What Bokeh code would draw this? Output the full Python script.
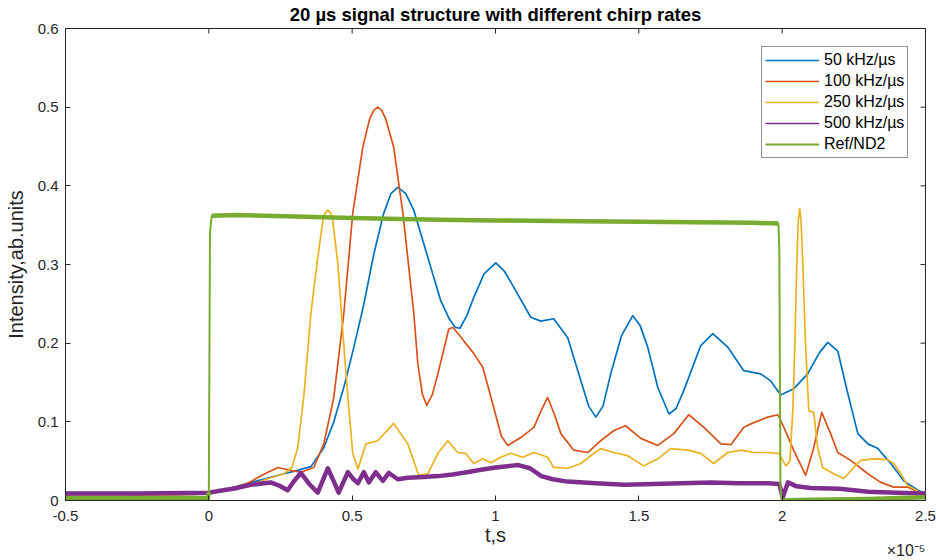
import numpy as np
from bokeh.plotting import figure
from bokeh.models import FixedTicker, Range1d, Legend, LegendItem, Title
from bokeh.embed import file_html
from bokeh.resources import INLINE

FONT = "Liberation Sans"
AXC = "#262626"

# ---------------- data (time in units of 1e-5 s) ----------------
x_ticks = [-0.5, 0, 0.5, 1, 1.5, 2, 2.5]
x_tick_labels = ["-0.5", "0", "0.5", "1", "1.5", "2", "2.5"]
y_ticks = [0, 0.1, 0.2, 0.3, 0.4, 0.5, 0.6]
y_tick_labels = ["0", "0.1", "0.2", "0.3", "0.4", "0.5", "0.6"]

series_names = ["50 kHz/µs", "100 kHz/µs", "250 kHz/µs", "500 kHz/µs", "Ref/ND2"]
series_colors = ["#0072BD", "#D95319", "#EDB120", "#7E2F8E", "#77AC30"]

blue_t = [-0.5, 0.0, 0.136, 0.20, 0.251, 0.296, 0.356, 0.401, 0.436, 0.471, 0.506, 0.541,
          0.576, 0.610, 0.635, 0.659, 0.687, 0.715, 0.764, 0.809, 0.840, 0.860, 0.876, 0.900,
          0.924, 0.960, 1.001, 1.030, 1.064, 1.123, 1.158, 1.203, 1.252, 1.298, 1.325, 1.350,
          1.375, 1.402, 1.440, 1.479, 1.505, 1.531, 1.566, 1.605, 1.630, 1.657, 1.716, 1.758,
          1.810, 1.866, 1.925, 1.960, 1.995, 2.040, 2.089, 2.130, 2.159, 2.194, 2.229, 2.264,
          2.299, 2.334, 2.379, 2.424, 2.473, 2.500]
blue_v = [0.006, 0.008, 0.022, 0.028, 0.033, 0.037, 0.043, 0.067, 0.100, 0.144, 0.195, 0.250,
          0.314, 0.365, 0.390, 0.398, 0.390, 0.369, 0.309, 0.254, 0.230, 0.220, 0.219, 0.235,
          0.258, 0.288, 0.302, 0.292, 0.271, 0.233, 0.228, 0.231, 0.207, 0.152, 0.120, 0.106,
          0.120, 0.161, 0.210, 0.235, 0.222, 0.195, 0.144, 0.110, 0.117, 0.140, 0.197, 0.212,
          0.195, 0.165, 0.161, 0.152, 0.134, 0.142, 0.161, 0.188, 0.201, 0.190, 0.136, 0.085,
          0.072, 0.066, 0.047, 0.025, 0.013, 0.009]

red_t = [-0.5, 0.0, 0.136, 0.190, 0.241, 0.290, 0.321, 0.366, 0.401, 0.436, 0.471, 0.502,
         0.537, 0.561, 0.575, 0.589, 0.603, 0.617, 0.645, 0.677, 0.715, 0.729, 0.745, 0.760,
         0.780, 0.799, 0.837, 0.851, 0.870, 0.889, 0.924, 0.956, 0.994, 1.020, 1.043, 1.088,
         1.134, 1.160, 1.182, 1.205, 1.228, 1.273, 1.322, 1.367, 1.413, 1.454, 1.507, 1.566,
         1.622, 1.674, 1.727, 1.786, 1.821, 1.866, 1.901, 1.950, 1.985, 2.006, 2.040, 2.082,
         2.110, 2.138, 2.169, 2.194, 2.239, 2.299, 2.344, 2.389, 2.438, 2.483, 2.500]
red_v = [0.006, 0.008, 0.022, 0.033, 0.042, 0.038, 0.036, 0.042, 0.072, 0.131, 0.238, 0.365,
         0.449, 0.485, 0.496, 0.500, 0.496, 0.485, 0.449, 0.365, 0.238, 0.174, 0.135, 0.121,
         0.135, 0.161, 0.218, 0.220, 0.212, 0.203, 0.187, 0.169, 0.118, 0.082, 0.070, 0.080,
         0.093, 0.115, 0.131, 0.110, 0.085, 0.064, 0.061, 0.076, 0.089, 0.095, 0.079, 0.070,
         0.085, 0.109, 0.093, 0.072, 0.071, 0.093, 0.099, 0.106, 0.109, 0.093, 0.064, 0.032,
         0.067, 0.112, 0.085, 0.061, 0.051, 0.034, 0.023, 0.017, 0.017, 0.010, 0.009]

yellow_t = [-0.5, 0.0, 0.146, 0.200, 0.262, 0.290, 0.310, 0.331, 0.356, 0.380, 0.398, 0.406,
            0.415, 0.424, 0.432, 0.450, 0.467, 0.485, 0.502, 0.520, 0.548, 0.589, 0.645, 0.694,
            0.732, 0.764, 0.799, 0.834, 0.868, 0.896, 0.924, 0.956, 0.984, 1.018, 1.053, 1.095,
            1.134, 1.182, 1.203, 1.252, 1.298, 1.343, 1.367, 1.413, 1.461, 1.517, 1.566, 1.611,
            1.671, 1.716, 1.761, 1.810, 1.856, 1.901, 1.950, 1.988, 2.013, 2.027, 2.037, 2.044,
            2.051, 2.056, 2.061, 2.066, 2.072, 2.082, 2.093, 2.110, 2.124, 2.141, 2.180, 2.215,
            2.250, 2.274, 2.320, 2.368, 2.389, 2.414, 2.438, 2.483, 2.500]
yellow_v = [0.006, 0.008, 0.020, 0.027, 0.034, 0.042, 0.067, 0.131, 0.238, 0.309, 0.356, 0.366,
            0.369, 0.366, 0.356, 0.301, 0.216, 0.131, 0.060, 0.040, 0.072, 0.076, 0.098, 0.072,
            0.032, 0.034, 0.060, 0.076, 0.061, 0.060, 0.047, 0.053, 0.048, 0.055, 0.060, 0.055,
            0.061, 0.055, 0.042, 0.041, 0.047, 0.060, 0.066, 0.061, 0.057, 0.044, 0.053, 0.066,
            0.064, 0.060, 0.047, 0.061, 0.064, 0.061, 0.061, 0.060, 0.044, 0.050, 0.114, 0.195,
            0.300, 0.355, 0.371, 0.355, 0.300, 0.195, 0.114, 0.112, 0.067, 0.042, 0.034, 0.028,
            0.042, 0.051, 0.053, 0.052, 0.047, 0.034, 0.019, 0.010, 0.009]

purple_t = [-0.5, -0.25, 0.0, 0.05, 0.10, 0.146, 0.216, 0.245, 0.275, 0.298, 0.321, 0.350,
            0.380, 0.398, 0.415, 0.435, 0.453, 0.470, 0.485, 0.502, 0.520, 0.541, 0.558, 0.582,
            0.607, 0.628, 0.659, 0.694, 0.75, 0.80, 0.85, 0.90, 0.95, 1.00, 1.05, 1.08, 1.12,
            1.16, 1.20, 1.25, 1.35, 1.45, 1.55, 1.65, 1.75, 1.85, 1.95, 1.99, 2.002, 2.020,
            2.05, 2.10, 2.20, 2.25, 2.30, 2.40, 2.50]
purple_v = [0.009, 0.009, 0.010, 0.013, 0.016, 0.020, 0.023, 0.019, 0.013, 0.025, 0.035, 0.021,
            0.010, 0.026, 0.041, 0.025, 0.010, 0.024, 0.036, 0.028, 0.022, 0.036, 0.023, 0.036,
            0.025, 0.035, 0.027, 0.029, 0.030, 0.031, 0.033, 0.036, 0.039, 0.042, 0.044, 0.045,
            0.041, 0.031, 0.027, 0.024, 0.022, 0.020, 0.021, 0.022, 0.023, 0.022, 0.022, 0.021,
            0.004, 0.023, 0.018, 0.016, 0.015, 0.013, 0.011, 0.010, 0.009]

green_t = [-0.5, -0.003, 0.0, 0.004, 0.010, 0.10, 0.30, 0.50, 0.80, 1.00, 1.30, 1.60, 1.90,
           1.987, 1.990, 1.994, 1.998, 2.10, 2.30, 2.50]
green_v = [0.003, 0.003, 0.010, 0.340, 0.362, 0.363, 0.361, 0.359, 0.357, 0.356, 0.355, 0.354,
           0.353, 0.352, 0.320, 0.020, 0.000, 0.001, 0.002, 0.004]

# ---------------- figure ----------------
p = figure(width=936, height=560, output_backend="svg", toolbar_location=None,
           x_range=Range1d(-0.5, 2.5), y_range=Range1d(0, 0.6),
           min_border_left=65, min_border_right=11, min_border_top=28, min_border_bottom=60,
           background_fill_color="white", border_fill_color="white")
p.grid.visible = False
p.outline_line_color = AXC

p.title.text = "20 µs signal structure with different chirp rates"
p.title.text_font = FONT
p.title.text_font_size = "18.5px"
p.title.text_font_style = "bold"
p.title.text_color = "#000000"
p.title.align = "center"
p.title.vertical_align = "top"
p.title.standoff = 4


def style_axis(ax, ticks, labels):
    ax.ticker = FixedTicker(ticks=ticks)
    ax.minor_tick_line_color = None
    ax.major_tick_in = 5
    ax.major_tick_out = 0
    ax.axis_line_color = AXC
    ax.major_tick_line_color = AXC
    ax.major_label_text_color = AXC
    ax.major_label_text_font = FONT
    ax.major_label_text_font_size = "15px"
    ax.axis_label_text_font = FONT
    ax.axis_label_text_font_size = "20px"
    ax.axis_label_text_font_style = "normal"
    ax.axis_label_text_color = AXC
    ax.major_label_overrides = {t: l for t, l in zip(ticks, labels)}


style_axis(p.xaxis[0], x_ticks, x_tick_labels)
style_axis(p.yaxis[0], y_ticks, y_tick_labels)
p.xaxis[0].axis_label = "t,s"
p.xaxis[0].major_label_standoff = 10
p.xaxis[0].axis_label_standoff = 0
p.yaxis[0].axis_label = "Intensity,ab.units"
p.yaxis[0].major_label_standoff = 7
p.yaxis[0].axis_label_standoff = 8

# inward tick marks on the top and right edges of the box
tick_dy = 0.6 * 5 / 472.0
tick_dx = 3.0 * 5 / 860.0
p.segment(x0=x_ticks, y0=[0.6] * len(x_ticks), x1=x_ticks, y1=[0.6 - tick_dy] * len(x_ticks),
          line_color=AXC, line_width=1)
p.segment(x0=[2.5] * len(y_ticks), y0=y_ticks, x1=[2.5 - tick_dx] * len(y_ticks), y1=y_ticks,
          line_color=AXC, line_width=1)

# ---------------- series ----------------
lw = 1.7
r_blue = p.line(blue_t, blue_v, color=series_colors[0], line_width=lw, line_join="round")
r_red = p.line(red_t, red_v, color=series_colors[1], line_width=lw, line_join="round")
r_yel = p.line(yellow_t, yellow_v, color=series_colors[2], line_width=lw, line_join="round")
r_pur_leg = p.line(purple_t, purple_v, color=series_colors[3], line_width=lw)
p.line(purple_t, purple_v, color=series_colors[3], line_width=4.5, line_join="round")
r_grn = p.line(green_t, green_v, color=series_colors[4], line_width=2)
gv = np.array(green_v, dtype=float)
g_band = np.where((gv >= 0.02) & (gv <= 0.345), np.nan, gv)
p.line(green_t, g_band, color=series_colors[4], line_width=4.5, line_join="round")

legend = Legend(items=[LegendItem(label=n, renderers=[r]) for n, r in
                       zip(series_names, [r_blue, r_red, r_yel, r_pur_leg, r_grn])],
                location=(696, 342))
legend.label_text_font = FONT
legend.label_text_font_size = "16px"
legend.label_text_color = "#000000"
legend.border_line_color = AXC
legend.border_line_width = 1
legend.background_fill_color = "white"
legend.background_fill_alpha = 1
legend.padding = 3
legend.spacing = 1
legend.label_height = 20
legend.glyph_height = 20
legend.glyph_width = 54
legend.label_standoff = 5
legend.margin = 0
p.add_layout(legend, "center")

# axis exponent, under the right end of the x axis
expo = Title(text="×10⁻⁵", align="right", vertical_align="top", text_font=FONT,
             text_font_size="16px", text_font_style="normal", text_color=AXC, standoff=-14)
p.add_layout(expo, "below")

open("out.html", "w").write(file_html(p, INLINE))
